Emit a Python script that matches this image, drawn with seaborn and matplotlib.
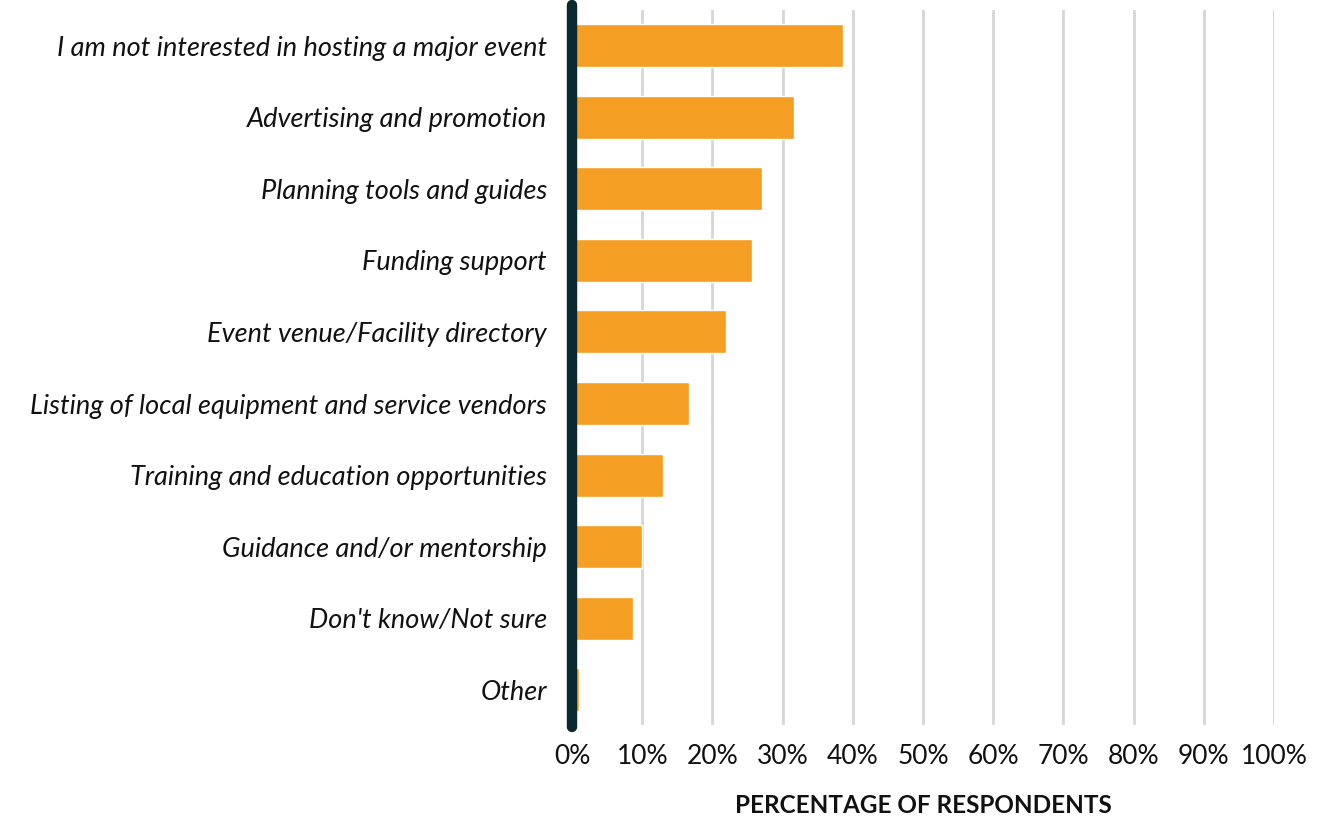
import matplotlib
matplotlib.use("Agg")
import matplotlib.pyplot as plt
import seaborn as sns
import pandas as pd
from matplotlib.ticker import FuncFormatter, MultipleLocator

categories = [
    "I am not interested in hosting a major event",
    "Advertising and promotion",
    "Planning tools and guides",
    "Funding support",
    "Event venue/Facility directory",
    "Listing of local equipment and service vendors",
    "Training and education opportunities",
    "Guidance and/or mentorship",
    "Don't know/Not sure",
    "Other",
]
percentages = [38.6, 31.6, 27.1, 25.7, 22.0, 16.6, 13.0, 10.0, 8.7, 1.0]

df = pd.DataFrame({"category": categories, "pct": percentages})

sns.set_theme(style="white")
plt.rcParams["font.family"] = ["Lato", "DejaVu Sans"]

fig = plt.figure(figsize=(13.44, 8.19), dpi=100)
ax = fig.add_axes([0.4256, 0.1142, 0.5224, 0.8736])

sns.barplot(data=df, x="pct", y="category", color="#F59E24", saturation=1,
            width=0.6, ax=ax, zorder=2)

ax.set_xlim(0, 100)
ax.set_ylim(9.5, -0.5)
ax.xaxis.set_major_locator(MultipleLocator(10))
ax.xaxis.set_major_formatter(FuncFormatter(lambda v, p: f"{v:.0f}%"))
ax.grid(axis="x", color="#D6D6D6", linewidth=2.0, zorder=0)
ax.grid(axis="y", visible=False)
for s in ax.spines.values():
    s.set_visible(False)

# heavy rounded baseline at zero
ax.plot([0, 0], [-0.57, 9.52], color="#0B2A30", linewidth=7.5,
        solid_capstyle="round", clip_on=False, zorder=3)

ax.tick_params(axis="x", length=0, pad=13, labelsize=19, labelcolor="#111111")
ax.tick_params(axis="y", length=0, pad=18, labelsize=19.5, labelcolor="#111111")
for lab in ax.get_yticklabels():
    lab.set_fontstyle("italic")

ax.set_ylabel("")
ax.set_xlabel("PERCENTAGE OF RESPONDENTS", fontsize=17.5, fontweight="bold",
              color="#111111", labelpad=18)

fig.savefig("out.png", dpi=100, facecolor="white")
